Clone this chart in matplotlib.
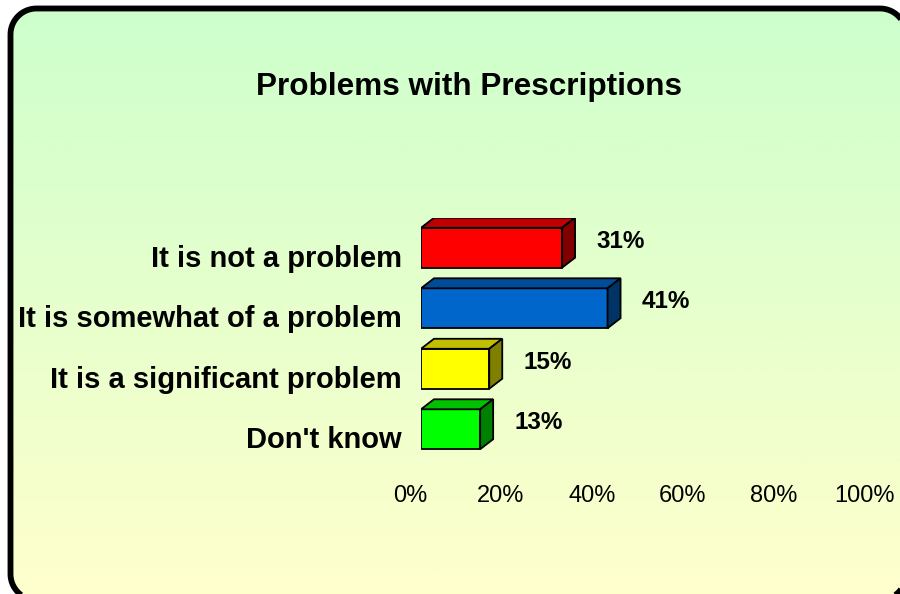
import numpy as np
import matplotlib
matplotlib.use("Agg")
import matplotlib.pyplot as plt
from matplotlib.patches import Polygon
from matplotlib.colors import LinearSegmentedColormap

plt.rcParams['font.family'] = ['Liberation Sans', 'DejaVu Sans']

### DATA ###
categories = ["It is not a problem", "It is somewhat of a problem",
              "It is a significant problem", "Don't know"]
values = [31, 41, 15, 13]
front_colors = ["#FF0000", "#0066CC", "#FFFF00", "#00FF00"]
top_colors = ["#C00000", "#004C99", "#C0C000", "#00C000"]
side_colors = ["#800000", "#003366", "#808000", "#008000"]
x_ticks = [0, 20, 40, 60, 80, 100]
title = "Problems with Prescriptions"

W, H = 900, 594


def rounded_rect(l, b, r, t, rad, n=24):
    # polyline rounded rectangle (curves get mangled when clipped at the canvas edge)
    pts = []
    for cx, cy, a0 in [(r - rad, t - rad, 0), (l + rad, t - rad, 90),
                       (l + rad, b + rad, 180), (r - rad, b + rad, 270)]:
        a = np.radians(np.linspace(a0, a0 + 90, n))
        pts += list(zip(cx + rad * np.cos(a), cy + rad * np.sin(a)))
    return pts


fig = plt.figure(figsize=(W / 100, H / 100), dpi=100)
fig.patch.set_facecolor("white")

### BACKGROUND: rounded frame with green->yellow gradient ###
# bg axes works in pixels, y measured from the bottom
bg = fig.add_axes([0, 0, 1, 1])
grad_cmap = LinearSegmentedColormap.from_list("bg", ["#FFFFCC", "#CCFFCC"])
img = bg.imshow(np.linspace(0, 1, 256).reshape(-1, 1), cmap=grad_cmap,
                origin="lower", extent=(0, W, 0, H), aspect="auto", zorder=1)
bg.set_xlim(0, W)
bg.set_ylim(0, H)
bg.axis("off")
frame_l, frame_t, frame_r, frame_b = 10.5, 8.5, 906, 600   # pixels from top-left
frame = Polygon(rounded_rect(frame_l, H - frame_b, frame_r, H - frame_t, 26),
                closed=True, facecolor="none", edgecolor="black",
                linewidth=4.2, joinstyle="round", zorder=3)
bg.add_patch(frame)
img.set_clip_path(frame)

### TITLE ###
fig.text(469.5 / W, 1 - 95 / H, title, ha="center", va="baseline",
         fontsize=22.7, fontweight="bold")

### BAR AXES ###
ax_l, ax_r = 421, 876          # pixel x of 0% and 100% (front face)
ax_t, ax_b = 217.5, 459.5      # pixel y (from top) of category -0.5 and 3.5
ax = fig.add_axes([ax_l / W, 1 - ax_b / H, (ax_r - ax_l) / W, (ax_b - ax_t) / H])
ax.set_xlim(0, 100)
ax.set_ylim(len(categories) - 0.5, -0.5)
ax.axis("off")

bar_h = 0.66
depth_px = (13, 10)
dx = depth_px[0] / ((ax_r - ax_l) / 100)
dy = depth_px[1] / ((ax_b - ax_t) / len(categories))
ypos = np.arange(len(categories))

ax.barh(ypos, values, height=bar_h, color=front_colors, edgecolor="black",
        linewidth=1.3, zorder=3)
for y, v, tc, sc in zip(ypos, values, top_colors, side_colors):
    top = y - bar_h / 2
    bot = y + bar_h / 2
    ax.add_patch(Polygon([(0, top), (v, top), (v + dx, top - dy), (dx, top - dy)],
                         closed=True, facecolor=tc, edgecolor="black",
                         linewidth=1.3, zorder=3))
    ax.add_patch(Polygon([(v, top), (v + dx, top - dy), (v + dx, bot - dy), (v, bot)],
                         closed=True, facecolor=sc, edgecolor="black",
                         linewidth=1.3, zorder=3))
    # value label
    ax.annotate(f"{v}%", xy=(v, y), xytext=(34, 0), textcoords="offset pixels",
                ha="left", va="baseline", fontsize=17.5, fontweight="bold",
                annotation_clip=False)

# category labels
for y, c in zip(ypos, categories):
    ax.annotate(c, xy=(0, y), xytext=(-19, -19), textcoords="offset pixels",
                ha="right", va="baseline", fontsize=21, fontweight="bold",
                annotation_clip=False)

# x tick labels (shifted like the 3D floor)
for t in x_ticks:
    ax.annotate(f"{t}%", xy=(t, 0), xycoords=("data", "axes fraction"),
                xytext=(-11, -43), textcoords="offset pixels",
                ha="center", va="baseline", fontsize=17, annotation_clip=False)

fig.savefig("out.png", dpi=100)
